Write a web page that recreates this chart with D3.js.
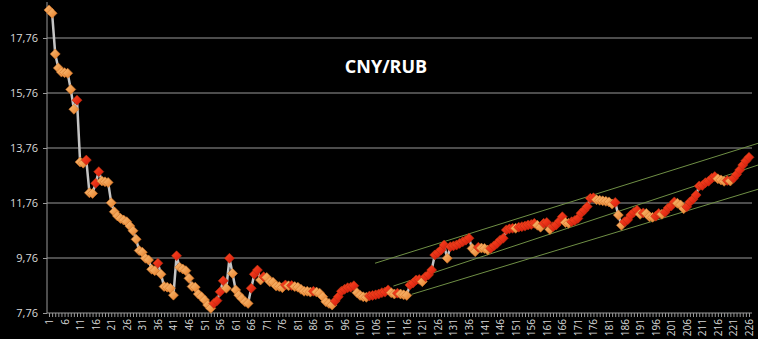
<!DOCTYPE html>
<html>
<head>
<meta charset="utf-8">
<script src="https://cdn.jsdelivr.net/npm/d3@7"></script>
<style>
  body { margin: 0; background: #000; }
  .tick text { fill: #d9d9d9; }
</style>
</head>
<body>
<div id="chart"></div>
<script>
// CNY/RUB daily values
var values = [
  18.78, 18.66, 17.18, 16.67, 16.52, 16.50, 16.48, 15.89, 15.17, 15.50,
  13.25, 13.21, 13.32, 12.13, 12.11, 12.48, 12.90, 12.56, 12.53, 12.51,
  11.77, 11.44, 11.29, 11.20, 11.14, 11.08, 10.92, 10.75, 10.44, 10.03,
  9.97, 9.75, 9.69, 9.35, 9.30, 9.57, 9.17, 8.72, 8.70, 8.66,
  8.41, 9.84, 9.42, 9.36, 9.30, 9.02, 8.72, 8.70, 8.45, 8.35,
  8.23, 8.05, 7.93, 8.11, 8.21, 8.53, 8.93, 8.66, 9.75, 9.20,
  8.60, 8.41, 8.29, 8.17, 8.11, 8.66, 9.17, 9.32, 8.96, 9.08,
  9.05, 8.90, 8.88, 8.74, 8.72, 8.68, 8.78, 8.75, 8.76, 8.72,
  8.70, 8.62, 8.55, 8.55, 8.52, 8.55, 8.52, 8.48, 8.35, 8.17,
  8.11, 8.05, 8.20, 8.35, 8.55, 8.62, 8.68, 8.70, 8.75, 8.50,
  8.40, 8.35, 8.33, 8.38, 8.40, 8.42, 8.45, 8.50, 8.52, 8.60,
  8.50, 8.45, 8.48, 8.45, 8.42, 8.40, 8.78, 8.85, 8.96, 8.98,
  8.90, 9.08, 9.15, 9.32, 9.87, 9.95, 10.05, 10.23, 9.75, 10.17,
  10.20, 10.23, 10.29, 10.35, 10.41, 10.48, 10.11, 9.99, 10.15, 10.12,
  10.11, 10.05, 10.11, 10.20, 10.29, 10.41, 10.48, 10.78, 10.82, 10.84,
  10.84, 10.88, 10.90, 10.92, 10.96, 10.98, 11.02, 10.95, 10.88, 11.02,
  11.05, 10.80, 10.90, 10.96, 11.10, 11.26, 11.05, 11.02, 11.08, 11.12,
  11.20, 11.39, 11.50, 11.63, 11.93, 11.95, 11.88, 11.86, 11.84, 11.82,
  11.80, 11.72, 11.78, 11.32, 10.95, 11.08, 11.15, 11.32, 11.42, 11.50,
  11.35, 11.40, 11.38, 11.26, 11.24, 11.28, 11.38, 11.35, 11.42, 11.58,
  11.65, 11.80, 11.75, 11.69, 11.55, 11.62, 11.80, 11.90, 12.05, 12.38,
  12.40, 12.50, 12.55, 12.66, 12.72, 12.64, 12.60, 12.55, 12.58, 12.56,
  12.66, 12.80, 12.96, 13.14, 13.30, 13.42
];
var days = values.map(function(d, i) { return i + 1; });

// y tick values (comma decimals in labels)
var yTicks = [7.76, 9.76, 11.76, 13.76, 15.76, 17.76];

// trend channel: [startDay, startValue, endDay, endValue]
var channelTop    = [105.8, 9.57, 228.9, 13.93];
var channelMiddle = [111.7, 8.74, 228.9, 13.14];
var channelBottom = [117.6, 8.44, 228.9, 12.26];
var channels = [channelTop, channelMiddle, channelBottom];

var title = "CNY/RUB";

var W = 758, H = 339;
var plotLeft = 47, plotRight = 752;

var svg = d3.select("#chart")
  .append("svg")
  .attr("width", W)
  .attr("height", H)
  .style("background", "#000");

var x = d3.scaleLinear()
  .domain([1, 226])
  .range([49, 749]);

var y = d3.scaleLinear()
  .domain([7.76, 17.76])
  .range([313, 38]);

// gradients for the markers
var defs = svg.append("defs");
var gOrange = defs.append("linearGradient").attr("id", "gOrange")
  .attr("x1", 0).attr("y1", 0).attr("x2", 1).attr("y2", 1);
gOrange.append("stop").attr("offset", "0%").attr("stop-color", "#fcc07a");
gOrange.append("stop").attr("offset", "100%").attr("stop-color", "#e57b25");
var gRed = defs.append("linearGradient").attr("id", "gRed")
  .attr("x1", 0).attr("y1", 0).attr("x2", 1).attr("y2", 1);
gRed.append("stop").attr("offset", "0%").attr("stop-color", "#ff4a22");
gRed.append("stop").attr("offset", "100%").attr("stop-color", "#d0160b");

// gridlines
svg.append("g")
  .selectAll("line")
  .data(yTicks.slice(1))
  .enter()
  .append("line")
  .attr("x1", plotLeft).attr("x2", plotRight)
  .attr("y1", function(d) { return y(d); })
  .attr("y2", function(d) { return y(d); })
  .attr("stroke", "#999999")
  .attr("stroke-width", 1);

// Y axis
var yAxis = svg.append("g")
  .attr("transform", "translate(" + plotLeft + ",0)")
  .call(d3.axisLeft(y)
    .tickValues(yTicks)
    .tickSize(4)
    .tickPadding(5)
    .tickFormat(function(d) { return d3.format(".2f")(d).replace(".", ","); }));
yAxis.select("path.domain").remove();
yAxis.append("line")
  .attr("x1", 0).attr("x2", 0).attr("y1", 2).attr("y2", y(7.76))
  .attr("stroke", "#999999");
yAxis.selectAll(".tick line").attr("stroke", "#999999");
yAxis.selectAll(".tick text")
  .style("font-family", "'Open Sans', sans-serif")
  .style("font-size", "11px");

// X axis
var xAxis = svg.append("g")
  .attr("transform", "translate(0," + y(7.76) + ")")
  .call(d3.axisBottom(x)
    .tickValues(days)
    .tickSize(4)
    .tickFormat(function(d) { return (d - 1) % 5 === 0 ? d : ""; }));
xAxis.select("path.domain").remove();
xAxis.append("line")
  .attr("x1", plotLeft).attr("x2", plotRight)
  .attr("stroke", "#999999");
xAxis.selectAll(".tick line").attr("stroke", "#999999");
xAxis.selectAll(".tick text")
  .attr("transform", "rotate(-90)")
  .attr("x", -6)
  .attr("y", 0)
  .attr("dy", "0.35em")
  .style("text-anchor", "end")
  .style("font-family", "'Open Sans', sans-serif")
  .style("font-size", "10px");

// trend channel lines
svg.append("g")
  .selectAll("line")
  .data(channels)
  .enter()
  .append("line")
  .attr("x1", function(d) { return x(d[0]); })
  .attr("y1", function(d) { return y(d[1]); })
  .attr("x2", function(d) { return x(d[2]); })
  .attr("y2", function(d) { return y(d[3]); })
  .attr("stroke", "#6f8f45")
  .attr("stroke-width", 1);

// price line
svg.append("path")
  .datum(values)
  .attr("fill", "none")
  .attr("stroke", "#c4c4c4")
  .attr("stroke-width", 2.5)
  .attr("d", d3.line()
    .x(function(d, i) { return x(i + 1); })
    .y(function(d) { return y(d); }));

// diamond markers: red when the value went up, orange otherwise
var diamond = "M0,-5L5,0L0,5L-5,0Z";
svg.append("g")
  .selectAll("path")
  .data(values)
  .enter()
  .append("path")
  .attr("d", diamond)
  .attr("transform", function(d, i) { return "translate(" + x(i + 1) + "," + y(d) + ")"; })
  .attr("fill", function(d, i) { return i > 0 && d > values[i - 1] ? "url(#gRed)" : "url(#gOrange)"; })
  .attr("stroke", function(d, i) { return i > 0 && d > values[i - 1] ? "#b8300f" : "#d2762a"; })
  .attr("stroke-width", 0.6);

// title
svg.append("text")
  .attr("x", 386)
  .attr("y", 73)
  .attr("text-anchor", "middle")
  .style("font-family", "'Open Sans', sans-serif")
  .style("font-weight", "bold")
  .style("font-size", "18px")
  .style("fill", "#ffffff")
  .text(title);
</script>
</body>
</html>
